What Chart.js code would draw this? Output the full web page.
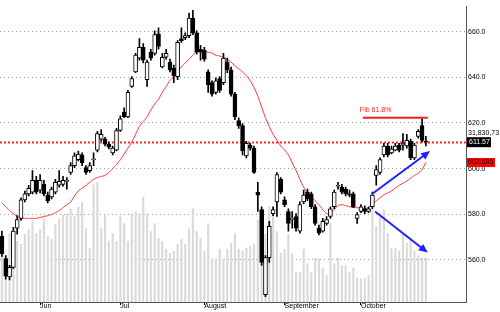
<!DOCTYPE html>
<html>
<head>
<meta charset="utf-8">
<script src="https://cdn.jsdelivr.net/npm/chart.js@4.4.1/dist/chart.umd.min.js"></script>
<style>
  html, body { margin: 0; padding: 0; background: #fff; }
  canvas { display: block; }
</style>
</head>
<body>
<canvas id="priceChart" width="500" height="312"></canvas>
<script>
// daily OHLC (one entry per trading day)
const opens = [
  570.4, 560.6, 552.5, 556.7, 573.9, 578.2, 586.3, 588.9, 589.7, 594.9,
  590.6, 593.1, 588.4, 587.6, 589.7, 592.7, 593.1, 594.4, 598.3, 601.3,
  603.9, 606.0, 600.4, 599.1, 603.9, 608.1, 612.9, 612.9, 610.7, 606.9,
  608.1, 616.7, 624.8, 622.7, 636.0, 642.4, 648.4, 653.1, 639.0, 651.0,
  650.5, 659.1, 644.5, 648.8, 646.7, 644.1, 640.3, 657.0, 657.4, 658.3,
  666.0, 659.5, 652.3, 651.8, 642.4, 637.7, 633.4, 639.4, 637.7, 646.7,
  643.3, 632.6, 621.0, 618.8, 605.6, 610.3, 609.0, 589.7, 582.0, 544.8,
  561.0, 580.3, 585.4, 595.3, 586.3, 581.2, 577.7, 579.0, 572.6, 585.4,
  589.7, 588.9, 583.3, 573.9, 572.6, 576.0, 579.0, 583.3, 592.3, 591.9,
  591.0, 588.9, 588.9, 578.2, 581.2, 582.4, 581.2, 583.3, 597.0, 598.3,
  606.0, 609.9, 606.9, 608.1, 610.3, 610.3, 609.9, 612.0, 604.7, 614.1,
  618.8, 612.0
];
const closes = [
  562.7, 552.9, 556.7, 572.6, 577.7, 586.3, 588.9, 591.4, 594.9, 589.7,
  594.9, 588.9, 585.9, 591.0, 594.0, 594.4, 594.9, 594.9, 601.3, 605.6,
  606.4, 602.6, 598.3, 601.3, 604.3, 615.4, 615.0, 610.7, 609.4, 609.0,
  616.7, 621.8, 622.7, 633.4, 639.4, 649.7, 653.1, 647.5, 646.7, 648.4,
  658.7, 653.5, 648.8, 650.5, 643.3, 640.7, 655.3, 656.1, 658.3, 666.0,
  659.5, 651.0, 651.0, 648.0, 636.8, 632.6, 638.5, 634.3, 648.4, 643.3,
  632.6, 622.7, 618.8, 607.7, 611.1, 609.0, 598.3, 588.4, 558.9, 561.0,
  574.7, 582.0, 597.4, 589.7, 584.2, 576.0, 578.2, 573.9, 584.2, 588.4,
  586.7, 583.3, 576.0, 571.7, 576.9, 577.7, 582.4, 589.7, 592.7, 589.7,
  588.9, 588.4, 583.3, 579.9, 583.3, 581.2, 582.4, 588.4, 599.6, 603.9,
  609.9, 606.0, 608.6, 609.9, 608.1, 611.1, 612.4, 604.7, 610.3, 616.3,
  612.4, 611.57
];
const highs = [
  572.6, 561.9, 557.6, 574.3, 579.4, 587.2, 590.2, 592.7, 599.1, 596.6,
  597.4, 594.9, 589.7, 591.9, 595.3, 599.1, 596.6, 596.1, 602.6, 606.9,
  607.7, 606.9, 601.3, 602.6, 606.9, 616.3, 617.1, 613.7, 611.6, 609.9,
  617.6, 623.1, 626.6, 634.3, 640.3, 650.5, 657.0, 654.8, 647.5, 652.3,
  660.4, 661.7, 650.5, 652.3, 648.0, 645.4, 656.1, 661.7, 659.5, 668.1,
  669.4, 660.4, 654.0, 653.1, 643.3, 638.5, 639.8, 640.3, 650.5, 648.4,
  644.5, 633.4, 622.3, 619.7, 612.0, 611.1, 609.9, 594.0, 583.3, 561.9,
  576.9, 583.3, 598.3, 596.1, 587.6, 582.4, 581.2, 580.3, 585.4, 590.6,
  591.0, 589.7, 584.2, 575.2, 578.2, 579.0, 583.3, 590.6, 594.0, 593.1,
  591.9, 590.6, 589.7, 580.7, 584.2, 583.7, 583.3, 589.7, 601.3, 604.7,
  611.1, 611.1, 609.9, 611.1, 611.1, 615.4, 615.0, 612.9, 611.1, 617.1,
  621.8, 614.1
];
const lows = [
  561.5, 551.6, 551.2, 556.3, 571.3, 577.3, 585.4, 588.0, 588.9, 588.9,
  589.3, 588.0, 585.0, 586.7, 588.9, 591.9, 592.3, 591.0, 597.4, 600.4,
  603.4, 601.3, 597.4, 598.3, 601.3, 607.3, 612.0, 609.9, 608.6, 606.0,
  607.7, 616.3, 622.3, 622.3, 635.6, 642.0, 647.5, 646.3, 636.0, 647.5,
  649.7, 652.3, 644.1, 648.0, 642.4, 637.7, 639.0, 655.3, 656.5, 657.4,
  658.7, 650.1, 647.5, 647.1, 633.4, 631.7, 632.6, 633.4, 636.8, 642.0,
  631.7, 621.4, 617.6, 606.0, 604.7, 608.1, 597.9, 581.2, 557.6, 543.9,
  558.9, 579.4, 579.0, 588.9, 583.3, 572.6, 573.9, 572.6, 571.7, 584.6,
  585.9, 582.4, 575.2, 570.9, 572.2, 575.2, 578.2, 582.4, 591.0, 588.9,
  588.0, 587.6, 582.9, 576.0, 580.7, 580.3, 580.7, 582.4, 592.7, 597.4,
  605.1, 605.1, 606.4, 607.7, 607.3, 608.1, 609.0, 603.9, 603.9, 613.3,
  611.6, 609.9
];
// volume in millions of shares
const volumes = [
  36.4, 32.9, 49.0, 44.8, 43.4, 41.3, 48.3, 51.8, 58.8, 49.0,
  51.8, 59.5, 46.9, 44.8, 55.3, 59.5, 62.3, 63.0, 66.5, 60.9,
  67.9, 71.4, 52.5, 38.5, 84.0, 85.4, 52.5, 62.3, 43.4, 49.0,
  43.4, 60.9, 56.0, 43.4, 63.0, 64.4, 63.0, 74.9, 63.0, 50.4,
  56.0, 45.5, 43.4, 37.8, 35.0, 36.4, 41.3, 44.8, 41.3, 52.5,
  66.5, 50.4, 45.5, 36.4, 56.0, 30.8, 30.8, 37.8, 30.8, 37.8,
  42.0, 49.0, 37.8, 36.4, 38.5, 39.9, 41.3, 58.8, 56.0, 48.3,
  67.9, 65.8, 50.4, 35.0, 37.8, 48.3, 35.0, 21.0, 21.0, 37.8,
  27.3, 21.0, 31.5, 30.8, 24.5, 18.9, 56.0, 27.3, 31.5, 25.9,
  25.9, 21.0, 24.5, 17.5, 16.8, 16.8, 18.9, 65.8, 53.9, 60.9,
  65.8, 49.0, 38.5, 38.5, 36.4, 48.3, 42.0, 44.8, 36.4, 32.9,
  31.5, 31.8
];
// red moving average
const movingAvg = [
  585.0, 583.3, 581.6, 580.3, 579.0, 578.6, 578.2, 578.2, 578.2, 578.2,
  578.6, 579.0, 579.4, 579.9, 580.7, 581.6, 582.9, 584.2, 585.4, 588.0,
  590.2, 591.4, 592.7, 594.0, 595.3, 596.1, 596.6, 597.0, 598.3, 600.0,
  601.8, 603.9, 606.4, 609.0, 611.6, 615.0, 618.5, 620.6, 622.7, 625.7,
  628.3, 630.4, 633.4, 636.0, 638.6, 640.3, 642.4, 644.6, 646.3, 648.0,
  649.7, 651.4, 651.9, 651.4, 651.0, 650.6, 649.7, 649.3, 648.9, 648.0,
  646.7, 645.0, 643.7, 642.4, 640.7, 638.6, 635.6, 631.7, 627.0, 622.3,
  618.5, 615.0, 612.5, 609.9, 608.2, 606.0, 602.6, 599.2, 595.3, 591.9,
  589.3, 587.6, 585.9, 584.2, 582.0, 580.3, 580.3, 582.0, 583.8, 584.2,
  583.8, 583.3, 582.9, 582.9, 582.5, 582.5, 582.9, 584.6, 585.9, 587.2,
  588.5, 589.3, 590.2, 591.5, 592.7, 593.6, 594.5, 595.8, 597.0, 597.9,
  599.6, 602.685
];

const monthLabels = ["Jun", "Jul", "August", "September", "October"];
const monthStarts = [10, 31, 53, 74, 94];
const priceTicks = [560, 580, 600, 620, 640, 660];

const slotCount = 122; // trading-day slots across the plot, incl. empty space on the right
const lastClose = 611.57;
const maLast = 602.685;
const volumeText = "31,830,73";
const fibLevel = 622.3;
const fibText = "Fib 61.8%";
const fibFrom = 94.5, fibTo = 111.5;
// arrows as [day index, price]
const arrows = [
  { from: [96.9, 588.9], to: [112.1, 607.7] },
  { from: [97.7, 581.2], to: [111.5, 563.2] },
];

const FONT = "Liberation Sans, Arial, sans-serif";
const slots = Array.from({ length: slotCount }, (_, i) => i);

function drawArrow(ctx, x1, y1, x2, y2) {
  const a = Math.atan2(y2 - y1, x2 - x1);
  const len = 9, half = 4;
  ctx.beginPath();
  ctx.moveTo(x1, y1);
  ctx.lineTo(x2 - len * 0.8 * Math.cos(a), y2 - len * 0.8 * Math.sin(a));
  ctx.stroke();
  ctx.beginPath();
  ctx.moveTo(x2, y2);
  ctx.lineTo(x2 - len * Math.cos(a) + half * Math.sin(a), y2 - len * Math.sin(a) - half * Math.cos(a));
  ctx.lineTo(x2 - len * Math.cos(a) - half * Math.sin(a), y2 - len * Math.sin(a) + half * Math.cos(a));
  ctx.closePath();
  ctx.fill();
}

const overlay = {
  id: "overlay",
  beforeDatasetsDraw(chart) {
    const { ctx, chartArea, scales } = chart;
    const y = Math.round(scales.y.getPixelForValue(lastClose)) + 0.5;
    ctx.save();
    ctx.strokeStyle = "#ff2a2a";
    ctx.lineWidth = 2;
    ctx.setLineDash([2, 2]);
    ctx.beginPath();
    ctx.moveTo(chartArea.left, y);
    ctx.lineTo(chartArea.right, y);
    ctx.stroke();
    ctx.restore();
  },
  afterDatasetsDraw(chart) {
    const { ctx, scales } = chart;
    const x = scales.x, y = scales.y;
    ctx.save();
    // fib line + label
    const fy = y.getPixelForValue(fibLevel);
    ctx.strokeStyle = "#ff1a1a";
    ctx.lineWidth = 2;
    ctx.beginPath();
    ctx.moveTo(x.getPixelForValue(fibFrom), fy);
    ctx.lineTo(x.getPixelForValue(fibTo), fy);
    ctx.stroke();
    ctx.fillStyle = "#ff1a1a";
    ctx.font = "7px " + FONT;
    ctx.textBaseline = "middle";
    ctx.textAlign = "left";
    ctx.fillText(fibText, x.getPixelForValue(fibFrom) - 3, fy - 8);
    // arrows
    ctx.strokeStyle = "#1f1fff";
    ctx.fillStyle = "#1f1fff";
    ctx.lineWidth = 2;
    arrows.forEach(ar => {
      drawArrow(ctx,
        x.getPixelForValue(ar.from[0]), y.getPixelForValue(ar.from[1]),
        x.getPixelForValue(ar.to[0]), y.getPixelForValue(ar.to[1]));
    });
    ctx.restore();
  },
  afterDraw(chart) {
    const { ctx, chartArea, scales } = chart;
    const left = chartArea.right + 1;
    ctx.save();
    ctx.font = "7px " + FONT;
    ctx.textBaseline = "middle";
    ctx.textAlign = "left";
    const cy = scales.y.getPixelForValue(lastClose);
    ctx.fillStyle = "#000";
    ctx.fillText(volumeText, left + 1, cy - 9);
    ctx.fillRect(left, cy - 5, 24, 10);
    ctx.fillStyle = "#fff";
    ctx.fillText(lastClose.toFixed(2), left + 2, cy);
    const my = scales.y.getPixelForValue(maLast);
    ctx.fillStyle = "#ff0000";
    ctx.fillRect(left, my - 4.5, 28, 9);
    ctx.fillStyle = "#3a0000";
    ctx.fillText(maLast.toFixed(3), left + 1, my);
    ctx.restore();
  }
};

const ctx = document.getElementById("priceChart").getContext("2d");

new Chart(ctx, {
  type: "bar",
  data: {
    labels: slots,
    datasets: [
      {
        label: "Volume",
        data: volumes,
        yAxisID: "yv",
        backgroundColor: "#dadada",
        barThickness: 1.5,
        grouped: false,
        order: 5,
      },
      {
        type: "line",
        label: "MA",
        data: movingAvg,
        yAxisID: "y",
        borderColor: "#ff3030",
        borderWidth: 1,
        pointRadius: 0,
        tension: 0.2,
        order: 4,
      },
      {
        label: "Range",
        data: lows.map((l, i) => [l, highs[i]]),
        yAxisID: "y",
        backgroundColor: "#000",
        barThickness: 1,
        grouped: false,
        order: 3,
      },
      {
        label: "Body",
        data: opens.map((o, i) => [o, closes[i]]),
        yAxisID: "y",
        backgroundColor: c => (closes[c.dataIndex] >= opens[c.dataIndex] ? "#fff" : "#000"),
        borderColor: "#000",
        borderWidth: 1,
        borderSkipped: false,
        barThickness: 4,
        grouped: false,
        order: 2,
      },
    ],
  },
  options: {
    responsive: false,
    animation: false,
    events: [],
    layout: { padding: 0 },
    plugins: {
      legend: { display: false },
      tooltip: { enabled: false },
    },
    scales: {
      x: {
        type: "category",
        offset: true,
        afterBuildTicks: s => { s.ticks = monthStarts.map(v => ({ value: v })); },
        afterFit: s => { s.height = 10; },
        grid: { drawOnChartArea: false, offset: false, tickLength: 3, color: "#000" },
        border: { color: "#555" },
        ticks: {
          autoSkip: false,
          maxRotation: 0,
          align: "start",
          padding: -3,
          color: "#000",
          font: { size: 7, family: FONT },
          callback: v => monthLabels[monthStarts.indexOf(v)],
        },
      },
      y: {
        position: "right",
        min: 541.55,
        max: 671.16,
        afterBuildTicks: s => { s.ticks = priceTicks.map(v => ({ value: v })); },
        afterFit: s => { s.width = 34; },
        grid: { color: "#a0a0a0", drawTicks: false },
        border: { color: "#555", dash: [1, 3] },
        ticks: {
          padding: 2,
          color: "#000",
          font: { size: 7, family: FONT },
          callback: v => v.toFixed(1),
        },
      },
      yv: {
        display: false,
        min: 0,
        max: 211.4,
      },
    },
  },
  plugins: [overlay],
});
</script>
</body>
</html>
